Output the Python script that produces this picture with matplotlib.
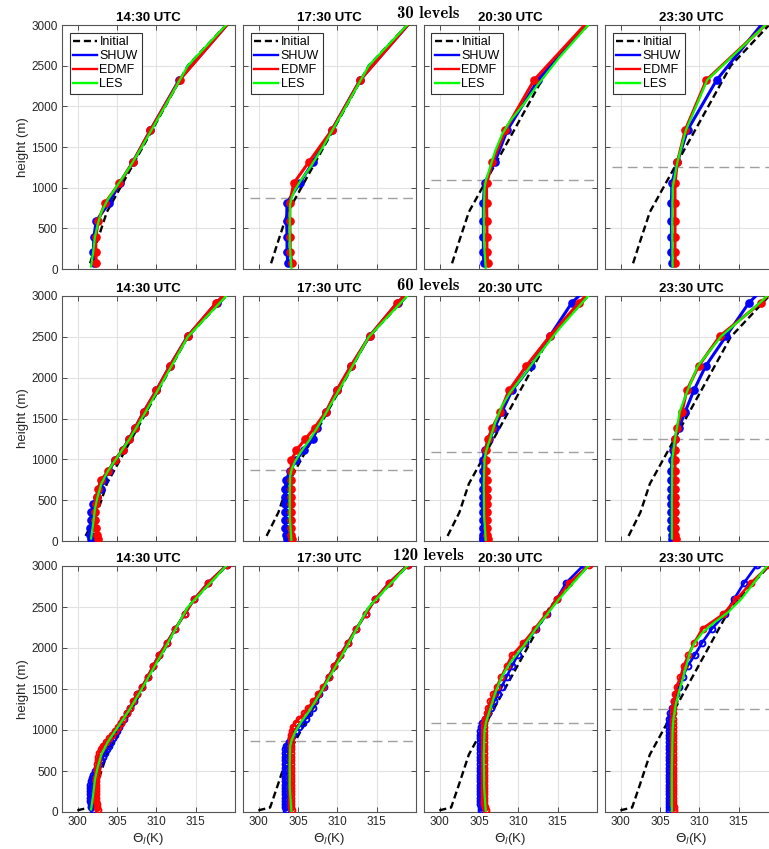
import matplotlib
matplotlib.use("Agg")
import matplotlib.pyplot as plt
from matplotlib.lines import Line2D

plt.rcParams['font.family'] = ['Liberation Sans', 'DejaVu Sans']

times = ['14:30 UTC', '17:30 UTC', '20:30 UTC', '23:30 UTC']
res_labels = ['30 levels', '60 levels', '120 levels']

# boundary-layer top (m), none at 14:30
pbl_top = [None, 870, 1090, 1255]

# model level heights (m)
z30 = [70, 213, 390, 590, 815, 1054, 1312, 1709, 2324, 3100]
z60 = [30, 75, 163, 257, 350, 447, 542, 640, 747, 857,
       990, 1114, 1245, 1387, 1583, 1844, 2142, 2509, 2917, 3380]
z120 = [20, 55, 95, 135, 175, 215, 255, 295, 335, 375,
        415, 455, 495, 540, 585, 630, 675, 720, 765, 810,
        855, 900, 945, 990, 1037, 1090, 1139, 1204, 1273, 1354,
        1435, 1529, 1651, 1781, 1911, 2058, 2237, 2411, 2594, 2797,
        3010]

# initial theta_l profile as seen on each grid
init_z30 = [70, 350, 650, 700, 1300, 2500, 3100]
init_t30 = [301.57, 302.5, 303.53, 303.7, 307.13, 314.0, 319.84]
init_z60 = [62, 350, 650, 700, 1300, 2500, 3100]
init_t60 = [301.0, 302.5, 303.53, 303.7, 307.13, 314.0, 319.84]
init_z120 = [20, 55, 350, 650, 700, 1300, 2500, 3100]
init_t120 = [299.95, 301.45, 302.5, 303.53, 303.7, 307.13, 314.0, 319.84]

# ---- 30 levels ----
shuw30_1430 = [302.05, 302.0, 302.05, 302.35, 304.0, 305.35, 307.0, 309.25, 312.9, 319.85]
edmf30_1430 = [302.35, 302.3, 302.3, 302.6, 303.5, 305.3, 307.0, 309.25, 312.95, 319.85]
shuw30_1730 = [303.7, 303.6, 303.6, 303.55, 303.6, 305.2, 306.9, 309.3, 312.9, 319.85]
edmf30_1730 = [304.25, 304.0, 304.0, 303.95, 303.95, 304.45, 306.35, 309.3, 312.9, 319.85]
shuw30_2030 = [305.6, 305.55, 305.55, 305.55, 305.55, 305.7, 307.0, 308.6, 312.5, 319.5]
edmf30_2030 = [306.1, 306.0, 306.0, 306.0, 305.95, 305.95, 306.7, 308.35, 312.0, 319.4]
shuw30_2330 = [306.5, 306.45, 306.45, 306.45, 306.45, 306.5, 307.2, 308.5, 312.2, 318.7]
edmf30_2330 = [306.95, 306.9, 306.9, 306.9, 306.9, 306.9, 307.2, 308.2, 310.9, 319.5]

# ---- 60 levels ----
shuw60_1430 = [301.7, 301.6, 301.6, 301.65, 301.75, 302.0, 302.4, 302.95, 303.3, 303.95,
               304.75, 305.7, 306.5, 307.3, 308.4, 310.0, 311.7, 314.0, 317.65, 322.6]
edmf60_1430 = [302.55, 302.5, 302.3, 302.2, 302.2, 302.3, 302.4, 302.6, 302.95, 303.9,
               304.7, 305.7, 306.5, 307.3, 308.4, 310.0, 311.7, 314.0, 317.6, 322.6]
shuw60_1730 = [303.55, 303.45, 303.4, 303.4, 303.4, 303.4, 303.4, 303.4, 303.45, 304.0,
               304.7, 305.8, 306.9, 307.4, 308.6, 309.95, 311.75, 314.1, 317.65, 322.6]
edmf60_1730 = [304.25, 304.15, 304.1, 304.1, 304.1, 304.1, 304.1, 304.1, 304.1, 304.1,
               304.15, 304.8, 305.9, 307.1, 308.55, 309.9, 311.7, 314.1, 317.6, 322.6]
shuw60_2030 = [305.55, 305.5, 305.45, 305.45, 305.45, 305.45, 305.45, 305.45, 305.45, 305.45,
               305.5, 305.7, 306.3, 307.0, 307.9, 309.2, 311.6, 314.0, 316.8, 321.8]
edmf60_2030 = [306.1, 306.0, 305.95, 305.95, 305.95, 305.95, 305.95, 305.95, 305.95, 305.9,
               305.85, 305.85, 306.1, 306.7, 307.7, 308.8, 311.0, 314.0, 317.7, 322.6]
shuw60_2330 = [306.55, 306.5, 306.45, 306.45, 306.45, 306.45, 306.45, 306.45, 306.45, 306.45,
               306.5, 306.6, 306.9, 307.4, 308.2, 309.3, 310.8, 313.4, 316.3, 321.2]
edmf60_2330 = [307.0, 306.95, 306.9, 306.9, 306.9, 306.9, 306.9, 306.9, 306.9, 306.9,
               306.9, 306.9, 306.95, 307.15, 307.8, 308.4, 309.9, 312.6, 317.8, 322.6]

# ---- 120 levels ----
shuw120_1430 = [301.9, 301.75, 301.65, 301.6, 301.55, 301.55, 301.55, 301.55, 301.6, 301.65,
                301.8, 302.0, 302.2, 302.45, 302.7, 302.95, 303.2, 303.45, 303.7, 303.95,
                304.2, 304.45, 304.7, 304.95, 305.25, 305.55, 305.85, 306.3, 306.7, 307.1,
                307.6, 308.2, 308.9, 309.6, 310.3, 311.3, 312.4, 313.6, 314.8, 316.6,
                318.95]
edmf120_1430 = [302.6, 302.45, 302.4, 302.35, 302.35, 302.35, 302.35, 302.35, 302.35, 302.35,
                302.35, 302.4, 302.4, 302.45, 302.5, 302.55, 302.6, 302.7, 302.9, 303.2,
                303.6, 304.0, 304.35, 304.7, 305.1, 305.45, 305.8, 306.3, 306.7, 307.05,
                307.6, 308.2, 308.9, 309.6, 310.3, 311.3, 312.4, 313.6, 314.8, 316.6,
                318.95]
shuw120_1730 = [303.45, 303.35, 303.3, 303.3, 303.3, 303.3, 303.3, 303.3, 303.3, 303.3,
                303.3, 303.3, 303.3, 303.3, 303.3, 303.3, 303.3, 303.3, 303.35, 303.5,
                303.8, 304.1, 304.35, 304.7, 305.1, 305.6, 306.0, 306.45, 306.85, 307.2,
                307.65, 308.25, 308.9, 309.6, 310.3, 311.3, 312.4, 313.6, 314.8, 316.6,
                318.95]
edmf120_1730 = [304.25, 304.15, 304.1, 304.1, 304.1, 304.1, 304.1, 304.1, 304.1, 304.1,
                304.1, 304.1, 304.1, 304.1, 304.1, 304.1, 304.1, 304.1, 304.1, 304.1,
                304.1, 304.1, 304.15, 304.2, 304.3, 304.7, 305.15, 305.8, 306.3, 306.95,
                307.55, 308.2, 308.9, 309.6, 310.3, 311.3, 312.4, 313.6, 314.8, 316.6,
                318.95]
shuw120_2030 = [305.3, 305.2, 305.15, 305.15, 305.15, 305.15, 305.15, 305.15, 305.15, 305.15,
                305.15, 305.15, 305.15, 305.15, 305.15, 305.15, 305.15, 305.15, 305.15, 305.15,
                305.15, 305.15, 305.15, 305.15, 305.2, 305.4, 305.8, 306.2, 306.55, 306.95,
                307.4, 307.9, 308.5, 309.2, 309.9, 310.9, 312.3, 313.6, 314.85, 316.1,
                318.3]
edmf120_2030 = [305.85, 305.7, 305.6, 305.6, 305.6, 305.6, 305.6, 305.6, 305.6, 305.6,
                305.6, 305.6, 305.6, 305.6, 305.6, 305.6, 305.6, 305.6, 305.6, 305.6,
                305.6, 305.6, 305.6, 305.6, 305.6, 305.65, 305.75, 305.95, 306.15, 306.45,
                306.8, 307.25, 307.85, 308.5, 309.2, 310.6, 312.1, 313.5, 314.85, 316.5,
                318.95]
shuw120_2330 = [306.2, 306.1, 306.1, 306.1, 306.1, 306.1, 306.1, 306.1, 306.1, 306.1,
                306.1, 306.1, 306.1, 306.1, 306.1, 306.1, 306.1, 306.1, 306.1, 306.1,
                306.1, 306.1, 306.1, 306.1, 306.1, 306.1, 306.1, 306.25, 306.5, 306.8,
                307.05, 307.45, 307.9, 308.5, 309.4, 310.3, 311.6, 313.3, 314.4, 315.7,
                317.3]
edmf120_2330 = [306.8, 306.75, 306.7, 306.7, 306.7, 306.7, 306.7, 306.7, 306.7, 306.7,
                306.7, 306.7, 306.7, 306.7, 306.7, 306.7, 306.7, 306.7, 306.7, 306.7,
                306.7, 306.7, 306.7, 306.7, 306.7, 306.7, 306.7, 306.7, 306.7, 306.8,
                306.95, 307.1, 307.6, 308.0, 308.6, 309.3, 310.4, 313.0, 314.7, 316.6,
                318.9]

# ---- LES reference ----
les1430_z = [30, 200, 400, 550, 700, 850, 1000, 1250, 1500, 2000, 2500, 3000]
les1430_t = [301.7, 301.95, 302.2, 302.55, 303.0, 303.8, 304.85, 306.6, 308.15, 311.1, 314.0, 318.87]
les1730_z = [10, 300, 600, 800, 880, 970, 1090, 1250, 1500, 2000, 2500, 3000]
les1730_t = [304.15, 303.95, 303.95, 304.0, 304.2, 304.6, 305.35, 306.55, 308.15, 311.1, 314.0, 318.87]
les2030_z = [10, 300, 700, 1000, 1100, 1250, 1450, 1650, 1820, 2030, 2270, 2600, 3000]
les2030_t = [305.85, 305.65, 305.6, 305.7, 305.9, 306.4, 307.05, 307.9, 308.95, 310.7, 312.5, 315.2, 318.87]
les2330_z30 = [30, 500, 1000, 1312, 1709, 2324, 3000]
les2330_t30 = [306.6, 306.55, 306.6, 307.2, 308.3, 311.0, 318.4]
les2330_z60 = [30, 500, 1000, 1250, 1583, 1844, 2142, 2509, 2917, 3000]
les2330_t60 = [306.5, 306.5, 306.55, 306.9, 307.5, 308.5, 309.8, 312.8, 317.7, 318.6]
les2330_z120 = [10, 500, 1000, 1131, 1294, 1497, 1700, 1944, 2066, 2188, 2310, 2432, 2594, 3000]
les2330_t120 = [306.5, 306.5, 306.6, 306.7, 306.96, 307.5, 308.1, 308.8, 309.4, 310.4, 311.9, 313.6, 315.3, 318.6]

grid_z = [z30, z60, z120]
init_z = [init_z30, init_z60, init_z120]
init_t = [init_t30, init_t60, init_t120]
shuw = [[shuw30_1430, shuw30_1730, shuw30_2030, shuw30_2330],
        [shuw60_1430, shuw60_1730, shuw60_2030, shuw60_2330],
        [shuw120_1430, shuw120_1730, shuw120_2030, shuw120_2330]]
edmf = [[edmf30_1430, edmf30_1730, edmf30_2030, edmf30_2330],
        [edmf60_1430, edmf60_1730, edmf60_2030, edmf60_2330],
        [edmf120_1430, edmf120_1730, edmf120_2030, edmf120_2330]]
les_rows = []
for zz, tt in [(les2330_z30, les2330_t30), (les2330_z60, les2330_t60), (les2330_z120, les2330_t120)]:
    les_rows.append([(les1430_z, les1430_t), (les1730_z, les1730_t),
                     (les2030_z, les2030_t), (zz, tt)])

BLUE, RED, GREEN = '#0000ff', '#ff0000', '#00ff00'
AXC = '#333333'

W, H = 769, 849
fig = plt.figure(figsize=(W / 100, H / 100), dpi=100)

col_left = [62, 243, 424, 605]
row_top = [25, 296, 566]
row_bot = [269, 541, 812]

for i in range(3):
    fine = (i == 2)
    lw_m = 1.9 if fine else 2.2
    ms = 4.2 if fine else 5.2
    for j in range(4):
        l, t, b = col_left[j], row_top[i], row_bot[i]
        ax = fig.add_axes([l / W, 1 - b / H, 173 / W, (b - t) / H])

        if pbl_top[j] is not None:
            ax.axhline(pbl_top[j], xmin=0.04, xmax=1, color='#a0a0a0', lw=1.0,
                       dashes=(7, 4), zorder=1)

        ax.plot(init_t[i], init_z[i], color='k', lw=1.7, dashes=(3, 1.6), zorder=2)
        for prof, c in [(shuw[i][j], BLUE), (edmf[i][j], RED)]:
            if fine:
                ax.plot(prof, grid_z[i], color=c, lw=lw_m, marker='o', ms=ms,
                        mfc='none', mec=c, mew=1.4, zorder=3)
            else:
                ax.plot(prof, grid_z[i], color=c, lw=lw_m, marker='o', ms=ms,
                        mfc=c, mec=c, zorder=3)
        lz, lt = les_rows[i][j]
        ax.plot(lt, lz, color=GREEN, lw=1.6, zorder=4)

        ax.set_xlim(298, 320)
        ax.set_ylim(0, 3000)
        ax.set_xticks([300, 305, 310, 315])
        ax.set_yticks(range(0, 3001, 500))
        ax.grid(True, color='#e2e2e2', lw=0.8)
        ax.set_axisbelow(True)
        ax.tick_params(direction='in', top=True, right=True, length=3.5, width=0.6,
                       color=AXC, labelcolor='#262626', labelsize=8.5, pad=3)
        for sp in ax.spines.values():
            sp.set_color('#555555')
            sp.set_linewidth(0.8)
        if i < 2:
            ax.set_xticklabels([])
        else:
            ax.set_xlabel(r'$\Theta_l$(K)', fontsize=9.5, color='#262626', labelpad=2)
        if j > 0:
            ax.set_yticklabels([])
        else:
            ax.set_ylabel('height (m)', fontsize=9.5, color='#262626', labelpad=2)
        ax.set_title(times[j], fontsize=9.5, fontweight='bold', pad=3)

        if i == 0:
            handles = [Line2D([], [], color='k', lw=1.7, dashes=(3, 1.6)),
                       Line2D([], [], color=BLUE, lw=1.7),
                       Line2D([], [], color=RED, lw=1.7),
                       Line2D([], [], color=GREEN, lw=1.7)]
            leg = ax.legend(handles, ['Initial', 'SHUW', 'EDMF', 'LES'], loc='upper left',
                            fontsize=9, fancybox=False, framealpha=1, edgecolor='#333333',
                            handlelength=1.9, handletextpad=0.2, labelspacing=0.15,
                            borderpad=0.3, borderaxespad=0.6)
            leg.get_frame().set_linewidth(0.8)

    # resolution label, serif bold
    fig.text(428 / W, 1 - (row_top[i] - 11) / H, res_labels[i], ha='center', va='center',
             fontsize=12, family='cmb10')

fig.savefig('out.png', dpi=100)
